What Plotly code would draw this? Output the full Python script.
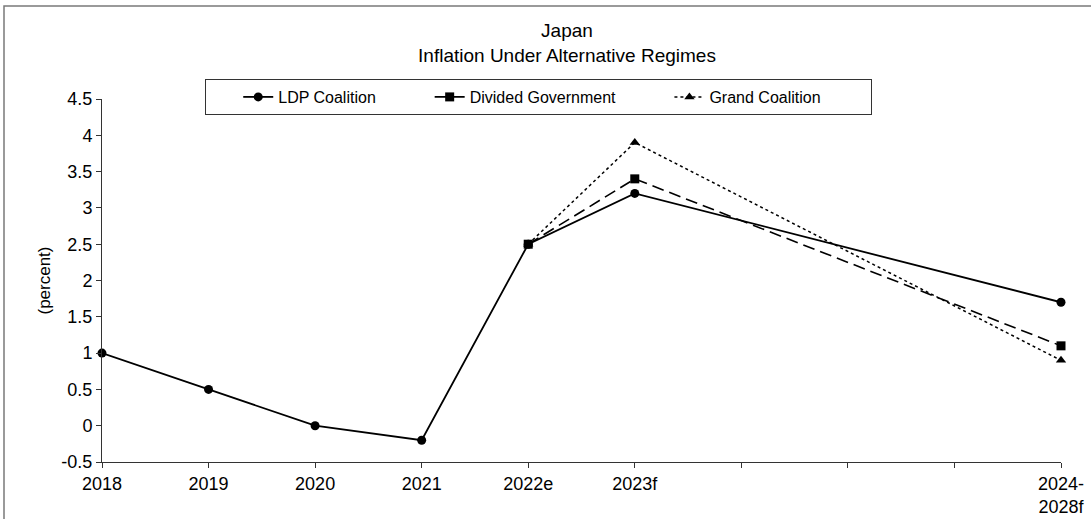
import plotly.graph_objects as go

# Category slots along the x axis (three unlabeled spacer slots before the final period)
categories = ["2018", "2019", "2020", "2021", "2022e", "2023f", " ", "  ", "   ", "2024-<br>2028f"]

# Inflation paths (percent)
ldp_x = ["2018", "2019", "2020", "2021", "2022e", "2023f", "2024-<br>2028f"]
ldp_y = [1.0, 0.5, 0.0, -0.2, 2.5, 3.2, 1.7]

divided_x = ["2022e", "2023f", "2024-<br>2028f"]
divided_y = [2.5, 3.4, 1.1]

grand_x = ["2022e", "2023f", "2024-<br>2028f"]
grand_y = [2.5, 3.9, 0.9]

series_names = ["LDP Coalition", "Divided Government", "Grand Coalition"]

y_tickvals = [-0.5, 0, 0.5, 1, 1.5, 2, 2.5, 3, 3.5, 4, 4.5]
y_ticktext = ["-0.5", "0", "0.5", "1", "1.5", "2", "2.5", "3", "3.5", "4", "4.5"]

FONT = "Arial, Liberation Sans, sans-serif"
W, H = 1091, 519
L, R, T, B = 102, 30, 99, 57
PW, PH = W - L - R, H - T - B
NBSP = "\u00a0"


def px_x(px):
    return (px - L) / PW


def px_y(py):
    return (H - B - py) / PH


# trailing non-breaking spaces widen each legend entry so the gaps between entries are even
pad = NBSP * 11

fig = go.Figure()

fig.add_trace(go.Scatter(
    x=ldp_x, y=ldp_y, name=series_names[0] + pad, mode="lines+markers",
    line=dict(color="black", width=1.8),
    marker=dict(symbol="circle", size=9, color="black"),
    cliponaxis=False,
))
fig.add_trace(go.Scatter(
    x=divided_x, y=divided_y, name=series_names[1] + pad, mode="lines+markers",
    line=dict(color="black", width=1.6, dash="12px,6px"),
    marker=dict(symbol="square", size=9, color="black"),
    cliponaxis=False,
))
fig.add_trace(go.Scatter(
    x=grand_x, y=grand_y, name=series_names[2] + NBSP * 10, mode="lines+markers",
    line=dict(color="black", width=1.5, dash="3px,3px"),
    marker=dict(symbol="triangle-up", size=9, color="black"),
    cliponaxis=False,
))

fig.update_layout(
    width=W, height=H,
    margin=dict(l=L, r=R, t=T, b=B, autoexpand=False),
    paper_bgcolor="white", plot_bgcolor="white",
    font=dict(family=FONT, color="black", size=18),
    title=dict(
        text="Japan<br>Inflation Under Alternative Regimes",
        x=px_x(567), xanchor="center", xref="paper",
        y=1 - 37 / H, yanchor="top",
        font=dict(family=FONT, size=19, color="black"),
    ),
    showlegend=True,
    legend=dict(
        orientation="h",
        x=px_x(205), xanchor="left",
        y=px_y(79), yanchor="top",
        bordercolor="#333333", borderwidth=1, bgcolor="white",
        font=dict(family=FONT, size=16, color="black"),
        title=dict(text=NBSP * 5, side="left", font=dict(size=16)),
    ),
    xaxis=dict(
        type="category",
        categoryorder="array", categoryarray=categories,
        tickmode="array", tickvals=categories, ticktext=categories,
        range=[0, len(categories) - 1],
        showline=True, linecolor="#333333", linewidth=1,
        ticks="outside", ticklen=5, tickcolor="#333333",
        showgrid=False, zeroline=False,
        tickfont=dict(family=FONT, size=18, color="black"),
        automargin=False,
    ),
    yaxis=dict(
        range=[-0.5, 4.5],
        tickmode="array", tickvals=y_tickvals, ticktext=y_ticktext,
        showline=True, linecolor="#333333", linewidth=1,
        ticks="outside", ticklen=5, tickcolor="#333333",
        showgrid=False, zeroline=False,
        tickfont=dict(family=FONT, size=18, color="black"),
        title=dict(text="(percent)", standoff=6,
                   font=dict(family=FONT, size=17, color="black")),
        automargin=False,
    ),
    shapes=[dict(
        type="rect", xref="paper", yref="paper",
        x0=px_x(4), x1=px_x(1100), y0=px_y(530), y1=px_y(6),
        line=dict(color="#7a7a7a", width=1.5), fillcolor="rgba(0,0,0,0)",
        layer="below",
    )],
)

fig.write_html("out.html")
